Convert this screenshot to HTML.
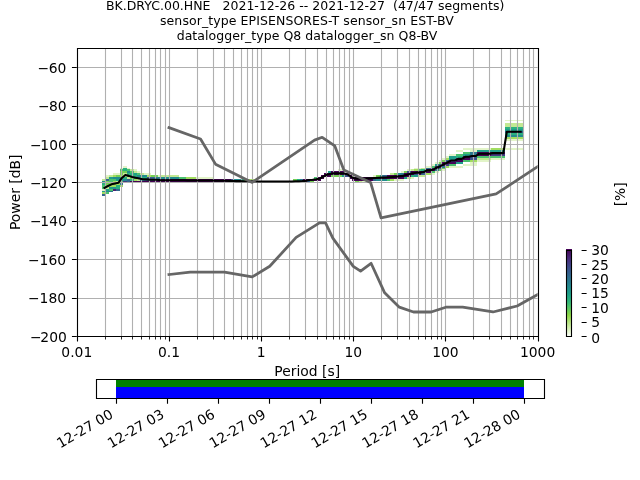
<!DOCTYPE html>
<html><head><meta charset="utf-8"><title>PPSD</title>
<style>html,body{margin:0;padding:0;background:#fff;overflow:hidden}svg{display:block}</style></head>
<body>
<svg width="640" height="480" viewBox="0 0 640 480">
<rect x="0" y="0" width="640" height="480" fill="#fff"/>
<g shape-rendering="crispEdges">
<rect x="505" y="120" width="18" height="1" fill="#e2f4c8"/>
<rect x="505" y="123" width="18" height="2" fill="#c2e993"/>
<rect x="505" y="125" width="18" height="2" fill="#c2e993"/>
<rect x="505" y="127" width="18" height="2" fill="#2ab07f"/>
<rect x="505" y="129" width="18" height="2" fill="#1f9e89"/>
<rect x="505" y="131" width="18" height="2" fill="#32658e"/>
<rect x="505" y="133" width="18" height="2" fill="#2ab07f"/>
<rect x="505" y="135" width="18" height="2" fill="#228b8d"/>
<rect x="505" y="137" width="18" height="2" fill="#a1dd5f"/>
<rect x="505" y="139" width="18" height="2" fill="#e2f4c8"/>
<rect x="463" y="148" width="28" height="2" fill="#e2f4c8"/>
<rect x="491" y="148" width="14" height="2" fill="#a1dd5f"/>
<rect x="505" y="148" width="18" height="2" fill="#e2f4c8"/>
<rect x="456" y="150" width="7" height="2" fill="#e2f4c8"/>
<rect x="470" y="150" width="7" height="2" fill="#e2f4c8"/>
<rect x="477" y="150" width="28" height="2" fill="#1f9e89"/>
<rect x="463" y="152" width="7" height="2" fill="#4ac16d"/>
<rect x="470" y="152" width="7" height="2" fill="#2a788e"/>
<rect x="477" y="152" width="14" height="2" fill="#440154"/>
<rect x="491" y="152" width="14" height="2" fill="#440154"/>
<rect x="449" y="154" width="7" height="2" fill="#e2f4c8"/>
<rect x="456" y="154" width="7" height="2" fill="#4ac16d"/>
<rect x="463" y="154" width="7" height="2" fill="#1f9e89"/>
<rect x="470" y="154" width="7" height="2" fill="#2a788e"/>
<rect x="477" y="154" width="14" height="2" fill="#440154"/>
<rect x="491" y="154" width="14" height="2" fill="#443983"/>
<rect x="446" y="156" width="3" height="2" fill="#e2f4c8"/>
<rect x="449" y="156" width="7" height="2" fill="#1f9e89"/>
<rect x="456" y="156" width="7" height="2" fill="#2ab07f"/>
<rect x="463" y="156" width="7" height="2" fill="#450457"/>
<rect x="470" y="156" width="7" height="2" fill="#3c508b"/>
<rect x="477" y="156" width="28" height="2" fill="#4ac16d"/>
<rect x="442" y="158" width="4" height="2" fill="#e2f4c8"/>
<rect x="446" y="158" width="3" height="2" fill="#a1dd5f"/>
<rect x="449" y="158" width="7" height="2" fill="#1f9e89"/>
<rect x="456" y="158" width="7" height="2" fill="#482071"/>
<rect x="463" y="158" width="7" height="2" fill="#450457"/>
<rect x="470" y="158" width="7" height="2" fill="#3c508b"/>
<rect x="477" y="158" width="14" height="2" fill="#c2e993"/>
<rect x="491" y="158" width="14" height="2" fill="#e2f4c8"/>
<rect x="439" y="160" width="3" height="2" fill="#e2f4c8"/>
<rect x="442" y="160" width="4" height="2" fill="#75d054"/>
<rect x="446" y="160" width="3" height="2" fill="#32658e"/>
<rect x="449" y="160" width="7" height="2" fill="#443983"/>
<rect x="456" y="160" width="7" height="2" fill="#450457"/>
<rect x="463" y="160" width="7" height="2" fill="#4ac16d"/>
<rect x="470" y="160" width="7" height="2" fill="#a1dd5f"/>
<rect x="477" y="160" width="14" height="2" fill="#e2f4c8"/>
<rect x="435" y="162" width="4" height="2" fill="#e2f4c8"/>
<rect x="439" y="162" width="3" height="2" fill="#75d054"/>
<rect x="442" y="162" width="4" height="2" fill="#450457"/>
<rect x="446" y="162" width="3" height="2" fill="#440154"/>
<rect x="449" y="162" width="7" height="2" fill="#450457"/>
<rect x="456" y="162" width="7" height="2" fill="#1f9e89"/>
<rect x="470" y="162" width="7" height="2" fill="#e2f4c8"/>
<rect x="432" y="164" width="3" height="2" fill="#e2f4c8"/>
<rect x="435" y="164" width="4" height="2" fill="#1f9e89"/>
<rect x="439" y="164" width="3" height="2" fill="#3c508b"/>
<rect x="442" y="164" width="4" height="2" fill="#450457"/>
<rect x="446" y="164" width="3" height="2" fill="#443983"/>
<rect x="449" y="164" width="7" height="2" fill="#4ac16d"/>
<rect x="463" y="164" width="14" height="2" fill="#e2f4c8"/>
<rect x="123" y="166" width="4" height="2" fill="#e2f4c8"/>
<rect x="425" y="166" width="7" height="2" fill="#e2f4c8"/>
<rect x="432" y="166" width="3" height="2" fill="#4ac16d"/>
<rect x="435" y="166" width="4" height="2" fill="#482071"/>
<rect x="439" y="166" width="3" height="2" fill="#440154"/>
<rect x="442" y="166" width="4" height="2" fill="#2a788e"/>
<rect x="446" y="166" width="3" height="2" fill="#a1dd5f"/>
<rect x="449" y="166" width="14" height="2" fill="#e2f4c8"/>
<rect x="120" y="168" width="3" height="1" fill="#e2f4c8"/>
<rect x="123" y="168" width="4" height="1" fill="#2ab07f"/>
<rect x="127" y="168" width="3" height="1" fill="#e2f4c8"/>
<rect x="414" y="168" width="7" height="1" fill="#e2f4c8"/>
<rect x="421" y="168" width="4" height="1" fill="#c2e993"/>
<rect x="425" y="168" width="3" height="1" fill="#2a788e"/>
<rect x="428" y="168" width="4" height="1" fill="#32658e"/>
<rect x="432" y="168" width="3" height="1" fill="#443983"/>
<rect x="435" y="168" width="4" height="1" fill="#440154"/>
<rect x="439" y="168" width="3" height="1" fill="#2a788e"/>
<rect x="442" y="168" width="4" height="1" fill="#75d054"/>
<rect x="120" y="169" width="3" height="2" fill="#4ac16d"/>
<rect x="123" y="169" width="4" height="2" fill="#2ab07f"/>
<rect x="127" y="169" width="3" height="2" fill="#4ac16d"/>
<rect x="130" y="169" width="4" height="2" fill="#c2e993"/>
<rect x="134" y="169" width="3" height="2" fill="#e2f4c8"/>
<rect x="338" y="169" width="4" height="2" fill="#e2f4c8"/>
<rect x="407" y="169" width="4" height="2" fill="#e2f4c8"/>
<rect x="411" y="169" width="3" height="2" fill="#c2e993"/>
<rect x="414" y="169" width="4" height="2" fill="#a1dd5f"/>
<rect x="418" y="169" width="3" height="2" fill="#4ac16d"/>
<rect x="421" y="169" width="4" height="2" fill="#2ab07f"/>
<rect x="425" y="169" width="3" height="2" fill="#440154"/>
<rect x="428" y="169" width="4" height="2" fill="#440154"/>
<rect x="432" y="169" width="3" height="2" fill="#440154"/>
<rect x="435" y="169" width="4" height="2" fill="#2a788e"/>
<rect x="439" y="169" width="3" height="2" fill="#75d054"/>
<rect x="442" y="169" width="4" height="2" fill="#e2f4c8"/>
<rect x="120" y="171" width="7" height="2" fill="#75d054"/>
<rect x="127" y="171" width="3" height="2" fill="#228b8d"/>
<rect x="130" y="171" width="4" height="2" fill="#4ac16d"/>
<rect x="134" y="171" width="3" height="2" fill="#c2e993"/>
<rect x="137" y="171" width="3" height="2" fill="#e2f4c8"/>
<rect x="328" y="171" width="3" height="2" fill="#1f9e89"/>
<rect x="331" y="171" width="14" height="2" fill="#450457"/>
<rect x="401" y="171" width="3" height="2" fill="#e2f4c8"/>
<rect x="404" y="171" width="3" height="2" fill="#75d054"/>
<rect x="407" y="171" width="4" height="2" fill="#3c508b"/>
<rect x="411" y="171" width="3" height="2" fill="#440154"/>
<rect x="414" y="171" width="4" height="2" fill="#440154"/>
<rect x="418" y="171" width="3" height="2" fill="#440154"/>
<rect x="421" y="171" width="4" height="2" fill="#440154"/>
<rect x="425" y="171" width="7" height="2" fill="#440154"/>
<rect x="432" y="171" width="3" height="2" fill="#4ac16d"/>
<rect x="435" y="171" width="4" height="2" fill="#e2f4c8"/>
<rect x="113" y="173" width="7" height="2" fill="#e2f4c8"/>
<rect x="120" y="173" width="3" height="2" fill="#75d054"/>
<rect x="123" y="173" width="4" height="2" fill="#c2e993"/>
<rect x="127" y="173" width="7" height="2" fill="#2ab07f"/>
<rect x="134" y="173" width="3" height="2" fill="#1f9e89"/>
<rect x="137" y="173" width="3" height="2" fill="#4ac16d"/>
<rect x="140" y="173" width="4" height="2" fill="#c2e993"/>
<rect x="144" y="173" width="7" height="2" fill="#e2f4c8"/>
<rect x="324" y="173" width="4" height="2" fill="#440154"/>
<rect x="328" y="173" width="3" height="2" fill="#440154"/>
<rect x="331" y="173" width="7" height="2" fill="#440154"/>
<rect x="338" y="173" width="4" height="2" fill="#440154"/>
<rect x="342" y="173" width="3" height="2" fill="#440154"/>
<rect x="345" y="173" width="4" height="2" fill="#440154"/>
<rect x="390" y="173" width="4" height="2" fill="#c2e993"/>
<rect x="394" y="173" width="3" height="2" fill="#75d054"/>
<rect x="397" y="173" width="4" height="2" fill="#228b8d"/>
<rect x="401" y="173" width="3" height="2" fill="#2a788e"/>
<rect x="404" y="173" width="7" height="2" fill="#440154"/>
<rect x="411" y="173" width="3" height="2" fill="#440154"/>
<rect x="414" y="173" width="4" height="2" fill="#3c508b"/>
<rect x="418" y="173" width="3" height="2" fill="#440154"/>
<rect x="421" y="173" width="4" height="2" fill="#32658e"/>
<rect x="425" y="173" width="7" height="2" fill="#a1dd5f"/>
<rect x="432" y="173" width="3" height="2" fill="#e2f4c8"/>
<rect x="106" y="175" width="3" height="2" fill="#e2f4c8"/>
<rect x="109" y="175" width="4" height="2" fill="#c2e993"/>
<rect x="113" y="175" width="3" height="2" fill="#a1dd5f"/>
<rect x="116" y="175" width="4" height="2" fill="#75d054"/>
<rect x="120" y="175" width="3" height="2" fill="#a1dd5f"/>
<rect x="123" y="175" width="4" height="2" fill="#c2e993"/>
<rect x="127" y="175" width="3" height="2" fill="#4ac16d"/>
<rect x="130" y="175" width="7" height="2" fill="#2ab07f"/>
<rect x="137" y="175" width="10" height="2" fill="#228b8d"/>
<rect x="147" y="175" width="4" height="2" fill="#a1dd5f"/>
<rect x="151" y="175" width="7" height="2" fill="#75d054"/>
<rect x="158" y="175" width="3" height="2" fill="#e2f4c8"/>
<rect x="161" y="175" width="18" height="2" fill="#c2e993"/>
<rect x="321" y="175" width="3" height="2" fill="#440154"/>
<rect x="324" y="175" width="4" height="2" fill="#440154"/>
<rect x="328" y="175" width="3" height="2" fill="#440154"/>
<rect x="331" y="175" width="11" height="2" fill="#75d054"/>
<rect x="342" y="175" width="3" height="2" fill="#1f9e89"/>
<rect x="345" y="175" width="4" height="2" fill="#3c508b"/>
<rect x="349" y="175" width="3" height="2" fill="#440154"/>
<rect x="373" y="175" width="3" height="2" fill="#e2f4c8"/>
<rect x="376" y="175" width="4" height="2" fill="#75d054"/>
<rect x="380" y="175" width="3" height="2" fill="#228b8d"/>
<rect x="383" y="175" width="4" height="2" fill="#32658e"/>
<rect x="387" y="175" width="3" height="2" fill="#450457"/>
<rect x="390" y="175" width="4" height="2" fill="#440154"/>
<rect x="394" y="175" width="3" height="2" fill="#440154"/>
<rect x="397" y="175" width="4" height="2" fill="#440154"/>
<rect x="401" y="175" width="3" height="2" fill="#440154"/>
<rect x="404" y="175" width="3" height="2" fill="#440154"/>
<rect x="407" y="175" width="4" height="2" fill="#440154"/>
<rect x="411" y="175" width="3" height="2" fill="#2ab07f"/>
<rect x="414" y="175" width="4" height="2" fill="#1f9e89"/>
<rect x="418" y="175" width="7" height="2" fill="#c2e993"/>
<rect x="106" y="177" width="3" height="2" fill="#c2e993"/>
<rect x="109" y="177" width="4" height="2" fill="#1f9e89"/>
<rect x="113" y="177" width="7" height="2" fill="#228b8d"/>
<rect x="120" y="177" width="7" height="2" fill="#2ab07f"/>
<rect x="127" y="177" width="3" height="2" fill="#c2e993"/>
<rect x="130" y="177" width="4" height="2" fill="#75d054"/>
<rect x="134" y="177" width="3" height="2" fill="#228b8d"/>
<rect x="137" y="177" width="3" height="2" fill="#32658e"/>
<rect x="140" y="177" width="7" height="2" fill="#2ab07f"/>
<rect x="147" y="177" width="4" height="2" fill="#3c508b"/>
<rect x="151" y="177" width="3" height="2" fill="#32658e"/>
<rect x="154" y="177" width="7" height="2" fill="#2a788e"/>
<rect x="161" y="177" width="18" height="2" fill="#228b8d"/>
<rect x="179" y="177" width="7" height="2" fill="#4ac16d"/>
<rect x="186" y="177" width="10" height="2" fill="#a1dd5f"/>
<rect x="196" y="177" width="17" height="2" fill="#e2f4c8"/>
<rect x="314" y="177" width="3" height="2" fill="#4ac16d"/>
<rect x="317" y="177" width="4" height="2" fill="#440154"/>
<rect x="321" y="177" width="3" height="2" fill="#440154"/>
<rect x="349" y="177" width="3" height="2" fill="#440154"/>
<rect x="352" y="177" width="3" height="2" fill="#440154"/>
<rect x="355" y="177" width="4" height="2" fill="#440154"/>
<rect x="359" y="177" width="3" height="2" fill="#440154"/>
<rect x="362" y="177" width="4" height="2" fill="#440154"/>
<rect x="366" y="177" width="7" height="2" fill="#440154"/>
<rect x="373" y="177" width="3" height="2" fill="#440154"/>
<rect x="376" y="177" width="4" height="2" fill="#440154"/>
<rect x="380" y="177" width="3" height="2" fill="#440154"/>
<rect x="383" y="177" width="4" height="2" fill="#440154"/>
<rect x="387" y="177" width="3" height="2" fill="#440154"/>
<rect x="390" y="177" width="4" height="2" fill="#440154"/>
<rect x="394" y="177" width="3" height="2" fill="#440154"/>
<rect x="397" y="177" width="4" height="2" fill="#440154"/>
<rect x="401" y="177" width="3" height="2" fill="#450457"/>
<rect x="404" y="177" width="3" height="2" fill="#1f9e89"/>
<rect x="407" y="177" width="4" height="2" fill="#c2e993"/>
<rect x="411" y="177" width="3" height="2" fill="#e2f4c8"/>
<rect x="102" y="179" width="4" height="2" fill="#c2e993"/>
<rect x="106" y="179" width="3" height="2" fill="#32658e"/>
<rect x="109" y="179" width="7" height="2" fill="#4ac16d"/>
<rect x="116" y="179" width="7" height="2" fill="#1f9e89"/>
<rect x="123" y="179" width="4" height="2" fill="#228b8d"/>
<rect x="127" y="179" width="3" height="2" fill="#32658e"/>
<rect x="130" y="179" width="4" height="2" fill="#2ab07f"/>
<rect x="134" y="179" width="3" height="2" fill="#a1dd5f"/>
<rect x="137" y="179" width="3" height="2" fill="#c2e993"/>
<rect x="140" y="179" width="4" height="2" fill="#2a788e"/>
<rect x="144" y="179" width="7" height="2" fill="#32658e"/>
<rect x="151" y="179" width="3" height="2" fill="#3c508b"/>
<rect x="154" y="179" width="4" height="2" fill="#443983"/>
<rect x="158" y="179" width="21" height="2" fill="#450457"/>
<rect x="179" y="179" width="7" height="2" fill="#440154"/>
<rect x="186" y="179" width="10" height="2" fill="#440154"/>
<rect x="196" y="179" width="17" height="2" fill="#440154"/>
<rect x="213" y="179" width="14" height="2" fill="#440154"/>
<rect x="227" y="179" width="4" height="2" fill="#450457"/>
<rect x="231" y="179" width="3" height="2" fill="#3c508b"/>
<rect x="234" y="179" width="7" height="2" fill="#228b8d"/>
<rect x="241" y="179" width="3" height="2" fill="#2ab07f"/>
<rect x="244" y="179" width="4" height="2" fill="#75d054"/>
<rect x="248" y="179" width="7" height="2" fill="#a1dd5f"/>
<rect x="293" y="179" width="4" height="2" fill="#75d054"/>
<rect x="297" y="179" width="3" height="2" fill="#2ab07f"/>
<rect x="300" y="179" width="3" height="2" fill="#2a788e"/>
<rect x="303" y="179" width="4" height="2" fill="#450457"/>
<rect x="307" y="179" width="3" height="2" fill="#440154"/>
<rect x="310" y="179" width="4" height="2" fill="#440154"/>
<rect x="314" y="179" width="3" height="2" fill="#440154"/>
<rect x="317" y="179" width="4" height="2" fill="#440154"/>
<rect x="352" y="179" width="3" height="2" fill="#440154"/>
<rect x="355" y="179" width="4" height="2" fill="#440154"/>
<rect x="359" y="179" width="14" height="2" fill="#440154"/>
<rect x="373" y="179" width="3" height="2" fill="#32658e"/>
<rect x="376" y="179" width="11" height="2" fill="#228b8d"/>
<rect x="387" y="179" width="3" height="2" fill="#4ac16d"/>
<rect x="390" y="179" width="4" height="2" fill="#a1dd5f"/>
<rect x="394" y="179" width="10" height="2" fill="#e2f4c8"/>
<rect x="102" y="181" width="4" height="2" fill="#228b8d"/>
<rect x="106" y="181" width="3" height="2" fill="#75d054"/>
<rect x="109" y="181" width="4" height="2" fill="#4ac16d"/>
<rect x="113" y="181" width="3" height="2" fill="#a1dd5f"/>
<rect x="116" y="181" width="4" height="2" fill="#c2e993"/>
<rect x="120" y="181" width="3" height="2" fill="#4ac16d"/>
<rect x="123" y="181" width="4" height="2" fill="#443983"/>
<rect x="127" y="181" width="3" height="2" fill="#32658e"/>
<rect x="130" y="181" width="4" height="2" fill="#440154"/>
<rect x="134" y="181" width="3" height="2" fill="#440154"/>
<rect x="137" y="181" width="3" height="2" fill="#440154"/>
<rect x="140" y="181" width="18" height="2" fill="#440154"/>
<rect x="158" y="181" width="21" height="2" fill="#440154"/>
<rect x="179" y="181" width="7" height="2" fill="#440154"/>
<rect x="186" y="181" width="10" height="2" fill="#440154"/>
<rect x="196" y="181" width="17" height="2" fill="#440154"/>
<rect x="213" y="181" width="14" height="2" fill="#440154"/>
<rect x="227" y="181" width="4" height="2" fill="#440154"/>
<rect x="231" y="181" width="3" height="2" fill="#440154"/>
<rect x="234" y="181" width="7" height="2" fill="#440154"/>
<rect x="241" y="181" width="3" height="2" fill="#440154"/>
<rect x="244" y="181" width="4" height="2" fill="#440154"/>
<rect x="248" y="181" width="7" height="2" fill="#440154"/>
<rect x="255" y="181" width="38" height="2" fill="#440154"/>
<rect x="293" y="181" width="4" height="2" fill="#440154"/>
<rect x="297" y="181" width="3" height="2" fill="#440154"/>
<rect x="300" y="181" width="3" height="2" fill="#440154"/>
<rect x="303" y="181" width="4" height="2" fill="#440154"/>
<rect x="307" y="181" width="3" height="2" fill="#32658e"/>
<rect x="310" y="181" width="4" height="2" fill="#75d054"/>
<rect x="355" y="181" width="4" height="2" fill="#75d054"/>
<rect x="359" y="181" width="3" height="2" fill="#c2e993"/>
<rect x="362" y="181" width="4" height="2" fill="#e2f4c8"/>
<rect x="102" y="183" width="4" height="2" fill="#2ab07f"/>
<rect x="106" y="183" width="10" height="2" fill="#75d054"/>
<rect x="116" y="183" width="4" height="2" fill="#a1dd5f"/>
<rect x="120" y="183" width="3" height="2" fill="#2a788e"/>
<rect x="102" y="185" width="4" height="2" fill="#4ac16d"/>
<rect x="106" y="185" width="3" height="2" fill="#75d054"/>
<rect x="109" y="185" width="7" height="2" fill="#a1dd5f"/>
<rect x="116" y="185" width="4" height="2" fill="#2ab07f"/>
<rect x="120" y="185" width="3" height="2" fill="#a1dd5f"/>
<rect x="102" y="187" width="4" height="2" fill="#4ac16d"/>
<rect x="106" y="187" width="3" height="2" fill="#c2e993"/>
<rect x="109" y="187" width="7" height="2" fill="#1f9e89"/>
<rect x="116" y="187" width="4" height="2" fill="#2ab07f"/>
<rect x="102" y="189" width="4" height="2" fill="#e2f4c8"/>
<rect x="106" y="189" width="3" height="2" fill="#1f9e89"/>
<rect x="109" y="189" width="4" height="2" fill="#4ac16d"/>
<rect x="113" y="189" width="3" height="2" fill="#482071"/>
<rect x="116" y="189" width="4" height="2" fill="#32658e"/>
<rect x="102" y="191" width="4" height="1" fill="#1f9e89"/>
<rect x="106" y="191" width="3" height="1" fill="#228b8d"/>
<rect x="109" y="191" width="4" height="1" fill="#2a788e"/>
<rect x="102" y="192" width="4" height="2" fill="#a1dd5f"/>
<rect x="106" y="192" width="3" height="2" fill="#4ac16d"/>
<rect x="102" y="194" width="4" height="2" fill="#32658e"/>
</g>
<path d="M105.5 48.0V336.0M121.5 48.0V336.0M132.5 48.0V336.0M141.5 48.0V336.0M149.5 48.0V336.0M155.5 48.0V336.0M160.5 48.0V336.0M165.5 48.0V336.0M169.5 48.0V336.0M197.5 48.0V336.0M213.5 48.0V336.0M224.5 48.0V336.0M233.5 48.0V336.0M241.5 48.0V336.0M247.5 48.0V336.0M252.5 48.0V336.0M257.5 48.0V336.0M261.5 48.0V336.0M289.5 48.0V336.0M305.5 48.0V336.0M317.5 48.0V336.0M326.5 48.0V336.0M333.5 48.0V336.0M339.5 48.0V336.0M344.5 48.0V336.0M349.5 48.0V336.0M353.5 48.0V336.0M381.5 48.0V336.0M397.5 48.0V336.0M409.5 48.0V336.0M418.5 48.0V336.0M425.5 48.0V336.0M431.5 48.0V336.0M437.5 48.0V336.0M441.5 48.0V336.0M445.5 48.0V336.0M473.5 48.0V336.0M489.5 48.0V336.0M501.5 48.0V336.0M510.5 48.0V336.0M517.5 48.0V336.0M523.5 48.0V336.0M529.5 48.0V336.0M533.5 48.0V336.0M76.8 67.5H537.6M76.8 106.5H537.6M76.8 144.5H537.6M76.8 182.5H537.6M76.8 221.5H537.6M76.8 259.5H537.6M76.8 298.5H537.6M76.8 336.5H537.6" stroke="#b0b0b0" stroke-width="1.11" fill="none"/>
<clipPath id="axclip"><rect x="76.8" y="48.0" width="460.8" height="288.0"/></clipPath>
<g clip-path="url(#axclip)" fill="none" stroke-linejoin="round">
<polyline points="104.54,187.81 108.01,186.05 111.48,184.34 114.95,183.44 118.41,182.83 121.88,177.93 125.35,175.01 128.82,175.87 132.29,177.02 135.75,177.79 139.22,178.54 142.69,179.27 146.16,179.40 149.63,179.60 153.09,179.68 156.56,179.72 160.03,180.10 163.50,180.19 166.96,180.19 170.43,180.19 173.90,180.19 177.37,180.19 180.84,180.30 184.30,180.30 187.77,180.42 191.24,180.42 194.71,180.42 198.18,180.54 201.64,180.54 205.11,180.54 208.58,180.54 212.05,180.54 215.51,180.79 218.98,180.79 222.45,180.79 225.92,180.79 229.39,180.87 232.85,180.99 236.32,181.11 239.79,181.11 243.26,181.19 246.73,181.28 250.19,181.32 253.66,181.32 257.13,181.44 260.60,181.44 264.06,181.44 267.53,181.44 271.00,181.44 274.47,181.44 277.94,181.44 281.40,181.44 284.87,181.44 288.34,181.44 291.81,181.44 295.28,181.28 298.74,181.19 302.21,181.07 305.68,180.87 309.15,179.93 312.61,179.68 316.08,179.32 319.55,178.70 323.02,176.78 326.49,174.78 329.95,174.09 333.42,173.35 336.89,173.35 340.36,173.27 343.83,173.47 347.29,174.21 350.76,176.58 354.23,178.38 357.70,178.62 361.16,178.50 364.63,178.42 368.10,178.34 371.57,178.34 375.04,177.97 378.50,177.76 381.97,177.60 385.44,177.52 388.91,177.23 392.38,176.95 395.84,176.66 399.31,176.25 402.78,175.88 406.25,174.99 409.72,174.09 413.18,173.27 416.65,172.66 420.12,172.62 423.59,172.00 427.05,170.33 430.52,170.29 433.99,169.18 437.46,167.22 440.93,165.88 444.39,163.96 447.86,162.20 451.33,160.44 454.80,160.44 458.27,158.89 461.73,158.89 465.20,156.77 468.67,156.77 472.14,156.07 475.60,156.07 479.07,153.74 482.54,153.74 486.01,153.74 489.48,153.74 492.94,153.13 496.41,153.13 499.88,153.13 503.35,153.13 506.82,131.72 510.28,131.72 513.75,131.72 517.22,131.72 520.69,131.72" stroke="#000" stroke-width="2.08" stroke-linecap="square"/>
<polyline points="168.96,127.68 200.52,139.02 215.51,164.16 252.19,182.40 314.55,140.16 322.20,137.28 334.79,145.92 343.85,169.91 370.56,182.40 381.02,217.91 496.13,193.93 629.76,105.87" stroke="#666" stroke-width="2.78" stroke-linecap="square"/>
<polyline points="168.96,274.56 190.20,272.06 224.45,272.06 252.19,276.87 269.73,266.30 296.16,237.40 319.50,222.91 325.54,222.90 332.83,238.08 353.28,266.40 360.58,271.19 371.08,263.29 384.66,292.81 399.33,307.19 413.48,312.00 431.16,312.00 445.84,307.20 462.72,307.18 492.98,311.98 517.15,306.01 629.76,243.61" stroke="#666" stroke-width="2.78" stroke-linecap="square"/>
</g>
<path d="M77.5 48.5H538.5V336.5H77.5Z" stroke="#000" stroke-width="1.11" fill="none" stroke-linejoin="miter"/>
<path d="M77.5 336.5v5.1M169.5 336.5v5.1M261.5 336.5v5.1M353.5 336.5v5.1M445.5 336.5v5.1M538.5 336.5v5.1M76.8 67.5h-4.86M76.8 106.5h-4.86M76.8 144.5h-4.86M76.8 182.5h-4.86M76.8 221.5h-4.86M76.8 259.5h-4.86M76.8 298.5h-4.86M76.8 336.5h-4.86" stroke="#000" stroke-width="1.11" fill="none"/>
<path d="M105.5 336.5v3.0M121.5 336.5v3.0M132.5 336.5v3.0M141.5 336.5v3.0M149.5 336.5v3.0M155.5 336.5v3.0M160.5 336.5v3.0M165.5 336.5v3.0M197.5 336.5v3.0M213.5 336.5v3.0M224.5 336.5v3.0M233.5 336.5v3.0M241.5 336.5v3.0M247.5 336.5v3.0M252.5 336.5v3.0M257.5 336.5v3.0M289.5 336.5v3.0M305.5 336.5v3.0M317.5 336.5v3.0M326.5 336.5v3.0M333.5 336.5v3.0M339.5 336.5v3.0M344.5 336.5v3.0M349.5 336.5v3.0M381.5 336.5v3.0M397.5 336.5v3.0M409.5 336.5v3.0M418.5 336.5v3.0M425.5 336.5v3.0M431.5 336.5v3.0M437.5 336.5v3.0M441.5 336.5v3.0M473.5 336.5v3.0M489.5 336.5v3.0M501.5 336.5v3.0M510.5 336.5v3.0M517.5 336.5v3.0M523.5 336.5v3.0M529.5 336.5v3.0M533.5 336.5v3.0" stroke="#000" stroke-width="0.83" fill="none"/>
<g font-family="'DejaVu Sans','Liberation Sans',sans-serif" font-size="13.89" fill="#000" style="font-kerning:normal;text-rendering:optimizeLegibility">
<text x="76.80" y="356.6" text-anchor="middle">0.01</text>
<text x="168.96" y="356.6" text-anchor="middle">0.1</text>
<text x="261.12" y="356.6" text-anchor="middle">1</text>
<text x="353.28" y="356.6" text-anchor="middle">10</text>
<text x="445.44" y="356.6" text-anchor="middle">100</text>
<text x="537.60" y="356.6" text-anchor="middle">1000</text>
<text x="66.40" y="73.38" dx="0 -0.4" text-anchor="end">−60</text>
<text x="66.70" y="110.88" dx="0 -0.5" text-anchor="end">−80</text>
<text x="66.80" y="150.18" dx="0 -1.2" text-anchor="end">−100</text>
<text x="66.80" y="187.98" dx="0 -1.2" text-anchor="end">−120</text>
<text x="66.80" y="226.38" dx="0 -1.2" text-anchor="end">−140</text>
<text x="66.10" y="265.48" dx="0 -0.0" text-anchor="end">−160</text>
<text x="66.10" y="302.88" dx="0 -0.0" text-anchor="end">−180</text>
<text x="66.80" y="341.58" dx="0 -1.2" text-anchor="end">−200</text>
<text x="307.2" y="375.5" text-anchor="middle">Period [s]</text>
<text transform="translate(19.5,192.3) rotate(-90)" text-anchor="middle">Power [dB]</text>
<text x="305.10" y="9.60" font-size="12.5" text-anchor="middle" textLength="398.4" lengthAdjust="spacing" xml:space="preserve" style="white-space:pre">BK.DRYC.00.HNE   2021-12-26 -- 2021-12-27  (47/47 segments)</text>
<text x="306.90" y="24.60" font-size="12.5" text-anchor="middle" textLength="293.8" lengthAdjust="spacing" xml:space="preserve" style="white-space:pre">sensor_type EPISENSORES-T sensor_sn EST-BV</text>
<text x="307.00" y="39.60" font-size="12.5" text-anchor="middle" textLength="260.6" lengthAdjust="spacing" xml:space="preserve" style="white-space:pre">datalogger_type Q8 datalogger_sn Q8-BV</text>
<defs><linearGradient id="cbg" x1="0" y1="0" x2="0" y2="1"><stop offset="0.0000" stop-color="#440154"/><stop offset="0.0167" stop-color="#46075a"/><stop offset="0.0333" stop-color="#470e61"/><stop offset="0.0500" stop-color="#481668"/><stop offset="0.0667" stop-color="#481b6d"/><stop offset="0.0833" stop-color="#482173"/><stop offset="0.1000" stop-color="#482878"/><stop offset="0.1167" stop-color="#472e7c"/><stop offset="0.1333" stop-color="#46337f"/><stop offset="0.1500" stop-color="#443983"/><stop offset="0.1667" stop-color="#423f85"/><stop offset="0.1833" stop-color="#414487"/><stop offset="0.2000" stop-color="#3e4989"/><stop offset="0.2167" stop-color="#3c4f8a"/><stop offset="0.2333" stop-color="#3a548c"/><stop offset="0.2500" stop-color="#38598c"/><stop offset="0.2667" stop-color="#355e8d"/><stop offset="0.2833" stop-color="#33638d"/><stop offset="0.3000" stop-color="#31678e"/><stop offset="0.3167" stop-color="#2f6c8e"/><stop offset="0.3333" stop-color="#2d718e"/><stop offset="0.3500" stop-color="#2b758e"/><stop offset="0.3667" stop-color="#29798e"/><stop offset="0.3833" stop-color="#277e8e"/><stop offset="0.4000" stop-color="#26828e"/><stop offset="0.4167" stop-color="#24878e"/><stop offset="0.4333" stop-color="#228b8d"/><stop offset="0.4500" stop-color="#21908d"/><stop offset="0.4667" stop-color="#1f948c"/><stop offset="0.4833" stop-color="#1f988b"/><stop offset="0.5000" stop-color="#1e9d89"/><stop offset="0.5167" stop-color="#1fa187"/><stop offset="0.5333" stop-color="#21a685"/><stop offset="0.5500" stop-color="#24aa83"/><stop offset="0.5667" stop-color="#28ae80"/><stop offset="0.5833" stop-color="#2eb37c"/><stop offset="0.6000" stop-color="#34b679"/><stop offset="0.6167" stop-color="#3bbb75"/><stop offset="0.6333" stop-color="#44bf70"/><stop offset="0.6500" stop-color="#4ec36b"/><stop offset="0.6667" stop-color="#56c667"/><stop offset="0.6833" stop-color="#60ca60"/><stop offset="0.7000" stop-color="#6ccd5a"/><stop offset="0.7167" stop-color="#77d153"/><stop offset="0.7333" stop-color="#81d34d"/><stop offset="0.7500" stop-color="#8ed645"/><stop offset="0.7667" stop-color="#95d951"/><stop offset="0.7833" stop-color="#9fdc5c"/><stop offset="0.8000" stop-color="#a6df69"/><stop offset="0.8167" stop-color="#aee275"/><stop offset="0.8333" stop-color="#b7e581"/><stop offset="0.8500" stop-color="#bee78d"/><stop offset="0.8667" stop-color="#c5ea9a"/><stop offset="0.8833" stop-color="#ceeda6"/><stop offset="0.9000" stop-color="#d5efb2"/><stop offset="0.9167" stop-color="#dcf2bf"/><stop offset="0.9333" stop-color="#e4f5cc"/><stop offset="0.9500" stop-color="#eaf7d8"/><stop offset="0.9667" stop-color="#f1fae5"/><stop offset="0.9833" stop-color="#f8fcf2"/><stop offset="1.0000" stop-color="#ffffff"/></linearGradient></defs>
<rect x="566" y="249" width="6" height="88" fill="url(#cbg)"/>
<path d="M566.5 250.5V336.5H571.5V250.5Z" stroke="#000" stroke-width="1.11" fill="none"/>
<text x="591.2" y="342.58">0</text>
<text x="591.2" y="326.88">5</text>
<text x="591.2" y="313.48">10</text>
<text x="591.2" y="298.08">15</text>
<text x="591.2" y="283.68">20</text>
<text x="591.2" y="270.08">25</text>
<text x="591.2" y="254.98">30</text>
<path d="M581.6 336.5h5.0M581.6 322.5h5.0M581.6 307.5h5.0M581.6 293.5h5.0M581.6 278.5h5.0M581.6 264.5h5.0M581.6 250.5h5.0" stroke="#000" stroke-width="1.11" fill="none"/>
<text transform="translate(624.5,194.3) rotate(-90)" text-anchor="middle">[%]</text>
<g shape-rendering="crispEdges"><rect x="116.36" y="379" width="407.27" height="8" fill="#008000"/><rect x="116.36" y="387" width="407.27" height="12" fill="#0000ff"/></g>
<path d="M96.5 379.5H544.5V398.5H96.5Z" stroke="#000" stroke-width="1.11" fill="none"/>
<text transform="translate(114.16,417.2) rotate(-30)" text-anchor="end">12-27 00</text>
<text transform="translate(165.07,417.2) rotate(-30)" text-anchor="end">12-27 03</text>
<text transform="translate(215.98,417.2) rotate(-30)" text-anchor="end">12-27 06</text>
<text transform="translate(266.89,417.2) rotate(-30)" text-anchor="end">12-27 09</text>
<text transform="translate(317.80,417.2) rotate(-30)" text-anchor="end">12-27 12</text>
<text transform="translate(368.71,417.2) rotate(-30)" text-anchor="end">12-27 15</text>
<text transform="translate(419.62,417.2) rotate(-30)" text-anchor="end">12-27 18</text>
<text transform="translate(470.53,417.2) rotate(-30)" text-anchor="end">12-27 21</text>
<text transform="translate(521.44,417.2) rotate(-30)" text-anchor="end">12-28 00</text>
<path d="M116.5 398.4v5.3M167.5 398.4v5.3M218.5 398.4v5.3M269.5 398.4v5.3M320.5 398.4v5.3M371.5 398.4v5.3M422.5 398.4v5.3M473.5 398.4v5.3M524.5 398.4v5.3" stroke="#000" stroke-width="1.11" fill="none"/>
</g>
</svg>
</body></html>
